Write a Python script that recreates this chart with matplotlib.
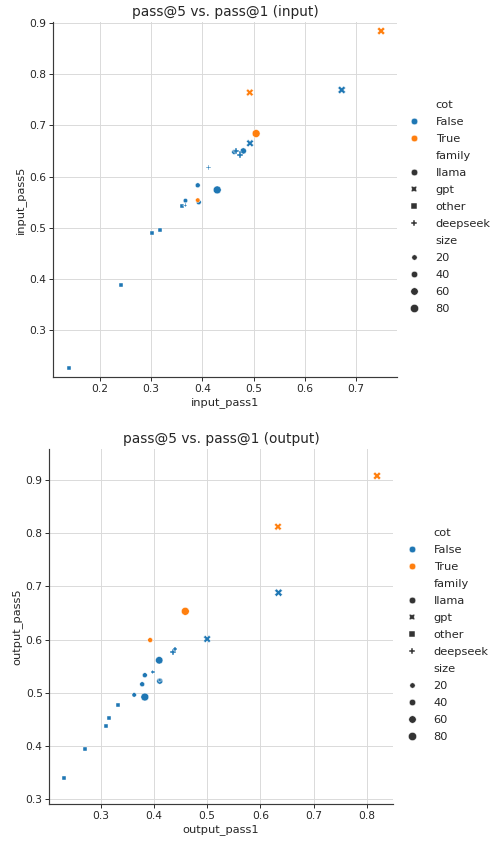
import numpy as np
import matplotlib
matplotlib.use("Agg")
import matplotlib.pyplot as plt
from matplotlib.lines import Line2D

# ---------------- data ----------------
in_x = [0.749, 0.4925, 0.672, 0.505, 0.493, 0.466, 0.480, 0.474, 0.462, 0.412,
        0.391, 0.429, 0.391, 0.393, 0.367, 0.367, 0.360, 0.317, 0.301, 0.241, 0.140]
in_y = [0.884, 0.764, 0.769, 0.684, 0.665, 0.650, 0.650, 0.643, 0.648, 0.618,
        0.583, 0.574, 0.554, 0.550, 0.553, 0.544, 0.542, 0.496, 0.490, 0.389, 0.227]
in_cot = [True, True, False, True, False, False, False, False, False, False,
          False, False, True, False, False, False, False, False, False, False, False]
in_family = ["gpt", "gpt", "gpt", "llama", "gpt", "deepseek", "llama", "deepseek", "llama", "deepseek",
             "llama", "llama", "llama", "llama", "llama", "deepseek", "other", "other", "other", "other", "other"]
in_size = [70, 60, 70, 70, 60, 33, 34, 33, 13, 7,
           13, 70, 7, 13, 7, 1.3, 3, 7, 3, 1, 1]

out_x = [0.819, 0.633, 0.634, 0.459, 0.393, 0.500, 0.436, 0.440, 0.410, 0.398,
         0.383, 0.411, 0.411, 0.378, 0.363, 0.383, 0.333, 0.316, 0.310, 0.271, 0.232]
out_y = [0.9075, 0.812, 0.688, 0.653, 0.599, 0.601, 0.576, 0.582, 0.561, 0.539,
         0.533, 0.522, 0.524, 0.516, 0.496, 0.492, 0.477, 0.452, 0.438, 0.394, 0.340]
out_cot = [True, True, False, True, True, False, False, False, False, False,
           False, False, False, False, False, False, False, False, False, False, False]
out_family = ["gpt", "gpt", "gpt", "llama", "llama", "gpt", "deepseek", "deepseek", "llama", "deepseek",
              "llama", "llama", "deepseek", "llama", "llama", "llama", "other", "other", "other", "other", "other"]
out_size = [70, 60, 70, 70, 13, 60, 33, 7, 60, 1.3,
            13, 34, 6.7, 13, 7, 70, 7, 3, 2, 1, 1]

cot_levels = [False, True]
cot_colors = ["#1f77b4", "#ff7f0e"]
family_levels = ["llama", "gpt", "other", "deepseek"]
family_markers = ["o", "X", "s", "P"]
size_ticks = [20, 40, 60, 80]
size_min, size_max = 1, 90
area_min, area_max = 18, 84

TEXT = "#262626"

def area(v):
    return area_min + (v - size_min) / (size_max - size_min) * (area_max - area_min)

DPI = 68
fig = plt.figure(figsize=(491 / DPI, 845 / DPI), dpi=DPI)

def panel(rect, xs, ys, cots, fams, sizes, title, xlabel, ylabel, xlim, ylim, xticks, yticks,
          leg_x, leg_y):
    ax = fig.add_axes(rect)
    xs = np.asarray(xs); ys = np.asarray(ys)
    for fam, mk in zip(family_levels, family_markers):
        for cv, col in zip(cot_levels, cot_colors):
            idx = [i for i in range(len(xs)) if fams[i] == fam and cots[i] == cv]
            if not idx:
                continue
            ax.scatter(xs[idx], ys[idx], s=[area(sizes[i]) for i in idx], marker=mk,
                       color=col, edgecolors="white", linewidths=0.45, zorder=3)
    ax.set_xlim(*xlim); ax.set_ylim(*ylim)
    ax.set_xticks(xticks); ax.set_yticks(yticks)
    ax.set_xticklabels([f"{t:.1f}" for t in xticks])
    ax.set_yticklabels([f"{t:.1f}" for t in yticks])
    ax.grid(True, color="#d9d9d9", linewidth=1.0, zorder=0)
    ax.set_axisbelow(True)
    for s in ["top", "right"]:
        ax.spines[s].set_visible(False)
    for s in ["left", "bottom"]:
        ax.spines[s].set_color("#3a3a3a")
        ax.spines[s].set_linewidth(1.25)
    ax.tick_params(axis="both", labelsize=11.3, colors=TEXT, length=4, width=1, pad=3)
    ax.set_title(title, fontsize=14.6, color=TEXT, pad=6)
    ax.set_xlabel(xlabel, fontsize=12, color=TEXT, labelpad=4)
    ax.set_ylabel(ylabel, fontsize=12, color=TEXT, labelpad=4)

    handles, labels = [], []
    blank = Line2D([], [], linestyle="", marker="")
    handles.append(blank); labels.append("cot")
    for cv, col in zip(cot_levels, cot_colors):
        handles.append(Line2D([], [], linestyle="", marker="o", color=col, markersize=7,
                              markeredgecolor="white", markeredgewidth=0.5))
        labels.append(str(cv))
    handles.append(blank); labels.append("family")
    for fam, mk in zip(family_levels, family_markers):
        handles.append(Line2D([], [], linestyle="", marker=mk, color="#333333", markersize=7,
                              markeredgecolor="white", markeredgewidth=0.5))
        labels.append(fam)
    handles.append(blank); labels.append("size")
    for t in size_ticks:
        handles.append(Line2D([], [], linestyle="", marker="o", color="#333333",
                              markersize=np.sqrt(area(t)), markeredgecolor="white",
                              markeredgewidth=0.5))
        labels.append(str(t))
    leg = fig.legend(handles, labels, loc="center left", bbox_to_anchor=(leg_x, leg_y),
                     frameon=False, fontsize=12, labelspacing=0.62, handlelength=2.0,
                     handletextpad=0.9, borderaxespad=0)
    for txt in leg.get_texts():
        txt.set_color(TEXT)
    return ax

panel([53 / 491, 1 - 377 / 845, (397 - 53) / 491, (377 - 22) / 845],
      in_x, in_y, in_cot, in_family, in_size,
      "pass@5 vs. pass@1 (input)", "input_pass1", "input_pass5",
      (0.1084, 0.780), (0.209, 0.9016),
      [0.2, 0.3, 0.4, 0.5, 0.6, 0.7], [0.3, 0.4, 0.5, 0.6, 0.7, 0.8, 0.9],
      0.811, 1 - 207 / 845)

panel([49.3 / 491, 1 - 804 / 845, (393 - 49.3) / 491, (804 - 449) / 845],
      out_x, out_y, out_cot, out_family, out_size,
      "pass@5 vs. pass@1 (output)", "output_pass1", "output_pass5",
      (0.2036, 0.849), (0.291, 0.958),
      [0.3, 0.4, 0.5, 0.6, 0.7, 0.8], [0.3, 0.4, 0.5, 0.6, 0.7, 0.8, 0.9],
      0.807, 1 - 635 / 845)

fig.savefig("out.png", dpi=DPI)
